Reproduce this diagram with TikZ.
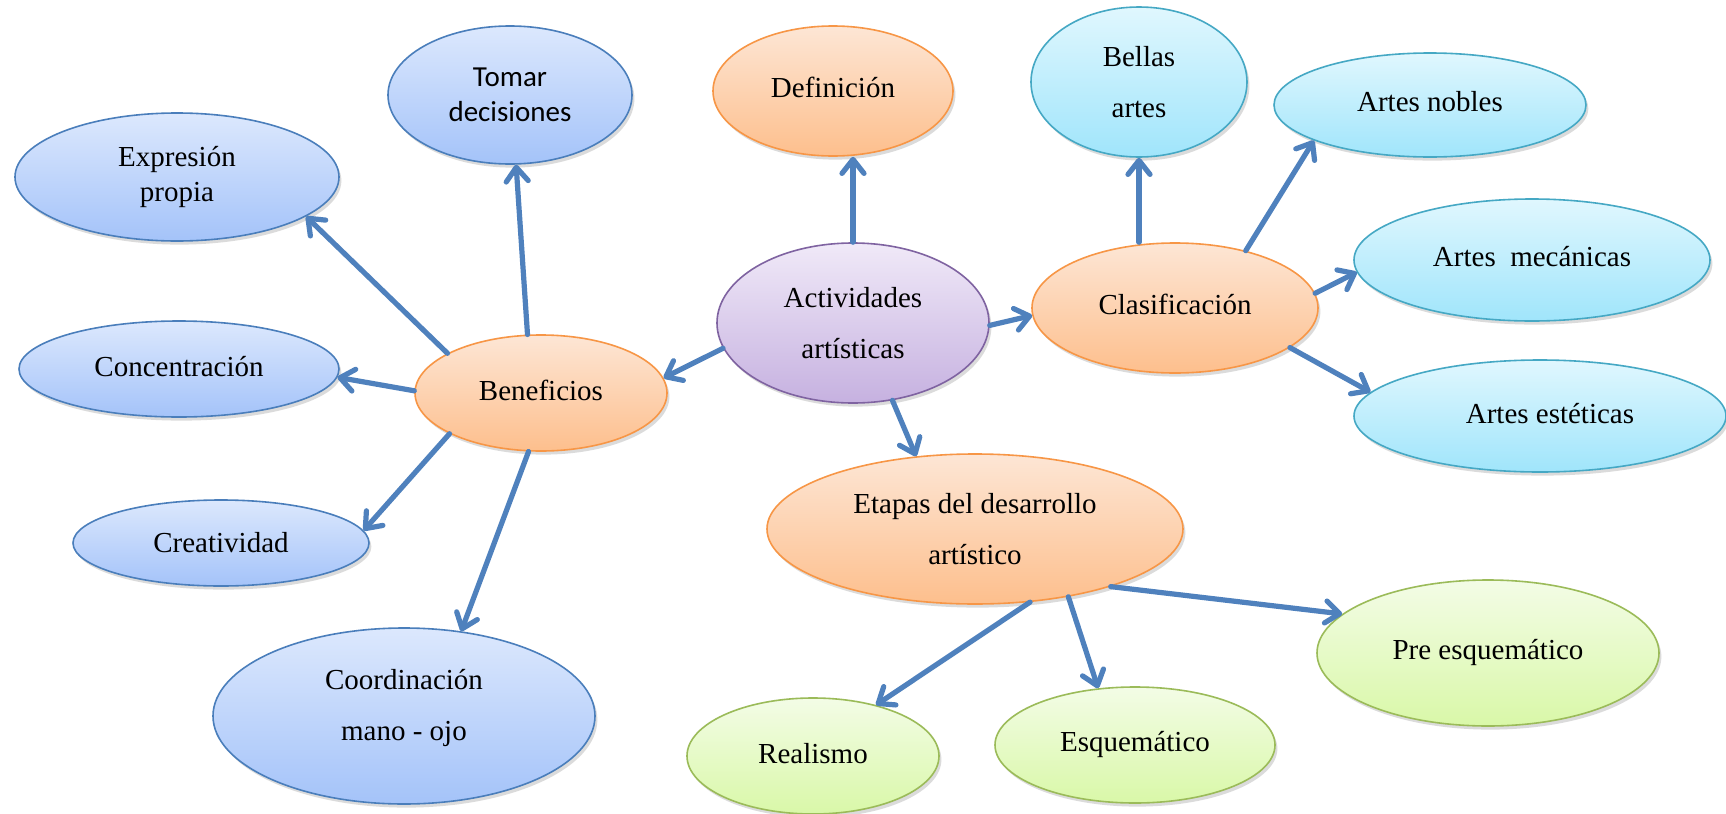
\documentclass[tikz,border=0pt]{standalone}
\usepackage{fontspec}
\setmainfont{Liberation Serif}
\newfontfamily\carlitofont{Carlito}
\usetikzlibrary{shapes.geometric,arrows.meta,shadows}
\definecolor{arrowblue}{HTML}{4F81BD}
\definecolor{bluetop}{HTML}{DCE8FD}
\definecolor{bluebot}{HTML}{A4C3F9}
\definecolor{blueedge}{HTML}{4A7EBB}
\definecolor{orangetop}{HTML}{FDE6D5}
\definecolor{orangebot}{HTML}{FDBF8D}
\definecolor{orangeedge}{HTML}{F79646}
\definecolor{purpletop}{HTML}{F0E9F8}
\definecolor{purplebot}{HTML}{C6B1E0}
\definecolor{purpleedge}{HTML}{7F63A1}
\definecolor{cyantop}{HTML}{E0F7FE}
\definecolor{cyanbot}{HTML}{A0E5FB}
\definecolor{cyanedge}{HTML}{45A8C4}
\definecolor{greentop}{HTML}{F3FCE6}
\definecolor{greenbot}{HTML}{D9F8A8}
\definecolor{greenedge}{HTML}{9BBB59}
\begin{document}
\begin{tikzpicture}[x=0.5pt,y=-0.5pt,
  bubble/.style={ellipse, draw, line width=0.8pt, inner sep=0pt, align=center,
    font=\fontsize{14.5}{17.5}\selectfont,
    drop shadow={shadow xshift=1.2pt, shadow yshift=-1.8pt, opacity=0.28}},
  wide/.style={font=\fontsize{14.5}{25.5}\selectfont},
  bluebub/.style={bubble, draw=blueedge, top color=bluetop, bottom color=bluebot},
  orangebub/.style={bubble, draw=orangeedge, top color=orangetop, bottom color=orangebot},
  purplebub/.style={bubble, draw=purpleedge, top color=purpletop, bottom color=purplebot},
  cyanbub/.style={bubble, draw=cyanedge, top color=cyantop, bottom color=cyanbot},
  greenbub/.style={bubble, draw=greenedge, top color=greentop, bottom color=greenbot},
  arr/.style={draw=arrowblue, line width=2.6pt, line cap=round,
    -{Straight Barb[length=7pt,width=11pt,round]}}
]
\useasboundingbox (0,0) rectangle (1726,814);
\fill[white] (0,0) rectangle (1726,814);

% left group
\node[bluebub, minimum width=122pt, minimum height=69pt,
  font=\carlitofont\fontsize{14.5}{17.5}\selectfont] (tomar) at (510,95) {Tomar\\decisiones};
\node[bluebub, minimum width=162pt, minimum height=64pt] (exp) at (177,177) {Expresión\\propia};
\node[bluebub, minimum width=160pt, minimum height=48pt] (conc) at (179,369) {\raisebox{3pt}{Concentración}};
\node[orangebub, minimum width=126pt, minimum height=58pt] (ben) at (541,393) {\raisebox{3pt}{Beneficios}};
\node[bluebub, minimum width=148pt, minimum height=43pt] (crea) at (221,543) {\raisebox{1pt}{Creatividad}};
\node[bluebub, wide, minimum width=191pt, minimum height=88pt] (coord) at (404,716) {Coordinación\\mano - ojo\\[-14pt]\mbox{}};

% centre
\node[orangebub, minimum width=120pt, minimum height=65pt] (def) at (833,91) {\raisebox{4pt}{Definición}};
\node[purplebub, wide, minimum width=136pt, minimum height=80pt] (act) at (853,323) {Actividades\\artísticas};

% right group
\node[cyanbub, wide, minimum width=108pt, minimum height=75pt] (bellas) at (1139,82) {Bellas\\artes};
\node[cyanbub, minimum width=156pt, minimum height=52pt] (nobles) at (1430,105) {\raisebox{4pt}{Artes nobles}};
\node[orangebub, minimum width=143pt, minimum height=65pt] (clas) at (1175,308) {\raisebox{4pt}{Clasificación}};
\node[cyanbub, minimum width=178pt, minimum height=61pt] (mec) at (1532,260) {\raisebox{4pt}{Artes~ mecánicas}};
\node[cyanbub, minimum width=186pt, minimum height=56pt] (est) at (1540,416) {\raisebox{3pt}{\hspace{10pt}Artes estéticas}};

% bottom group
\node[orangebub, wide, minimum width=208pt, minimum height=75pt] (etapas) at (975,529) {Etapas del desarrollo\\artístico};
\node[greenbub, minimum width=126pt, minimum height=58pt] (real) at (813,756) {\raisebox{3pt}{Realismo}};
\node[greenbub, minimum width=140pt, minimum height=58pt] (esq) at (1135,745) {\raisebox{4pt}{Esquemático}};
\node[greenbub, minimum width=171pt, minimum height=73pt] (pre) at (1488,653) {\raisebox{4pt}{Pre esquemático}};

% connectors
\draw[arr] (ben.157) -- (exp.-17);
\draw[arr] (ben.103) -- (tomar.-85);
\draw[arr] (ben.179) -- (conc.-3);
\draw[arr] (ben.204) -- (crea.5);
\draw[arr] (ben.258) -- (coord.56);
\draw[arr] (act.191) -- (ben.7);
\draw[arr] (act.north) -- (act.north |- def.south);
\draw[arr] (act.-1) -- (clas.183);
\draw[arr] (act.-63) -- (etapas.129);
\draw[arr] (bellas.south |- clas.north) -- (bellas.south);
\draw[arr] (clas.39) -- (nobles.197);
\draw[arr] (clas.6) -- (mec.184);
\draw[arr] (clas.-19) -- (est.172);
\draw[arr] (etapas.-53) -- (real.39);
\draw[arr] (etapas.-36) -- (esq.123);
\draw[arr] (etapas.-23) -- (pre.165);
\end{tikzpicture}
\end{document}
